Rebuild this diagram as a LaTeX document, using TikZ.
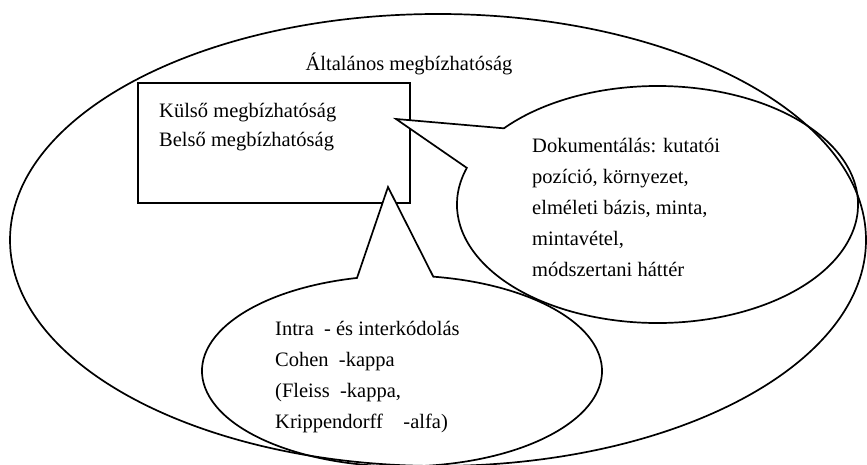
\documentclass[tikz,border=0pt]{standalone}
\usepackage{fontspec}
\setmainfont{Liberation Serif}
\usetikzlibrary{calc}

\begin{document}
\begin{tikzpicture}[x=1pt,y=1pt,
  outline/.style={draw,line width=1.7pt},
  bubble/.style={outline,fill=white,line join=miter},
  txt/.style={inner sep=0pt,align=left,font=\fontsize{20.5}{31}\selectfont}]
\useasboundingbox (0,0) rectangle (867,465);

\coordinate (docC) at (657.5,260.5);
\coordinate (kodC) at (402,94);
\coordinate (docTip) at (396,346);
\coordinate (kodTip) at (388,278);

\node[outline,minimum width=272pt,minimum height=120pt,inner sep=0pt] (keret) at (274,322) {};

\draw[bubble] (docTip) -- ($(docC)+(162:200.5pt and 118.5pt)$)
  arc[start angle=162,end angle=500,x radius=200.5pt,y radius=118.5pt] -- cycle;
\draw[bubble] (kodTip) -- ($(kodC)+(103:200pt and 95.5pt)$)
  arc[start angle=103,end angle=441,x radius=200pt,y radius=95.5pt] -- cycle;

\draw[outline] (438,225) ellipse [x radius=428pt,y radius=226pt];

\node[txt] (cim) at (409,401.5) {Általános megbízhatóság};
\node[txt,anchor=west,font=\fontsize{20.5}{29}\selectfont] (belso) at (159,338)
  {Külső megbízhatóság\\Belső megbízhatóság};
\node[txt,anchor=west] (docu) at (532,258)
  {Dokumentálás: kutatói\\pozíció, környezet,\\elméleti bázis, minta,\\mintavétel,\\módszertani háttér};
\node[txt,anchor=west] (kodolas) at (275,88)
  {Intra\ \ - és interkódolás\\Cohen\ \ -kappa\\(Fleiss\ \ -kappa,\\Krippendorff\ \ \ \ -alfa)};
\end{tikzpicture}
\end{document}
